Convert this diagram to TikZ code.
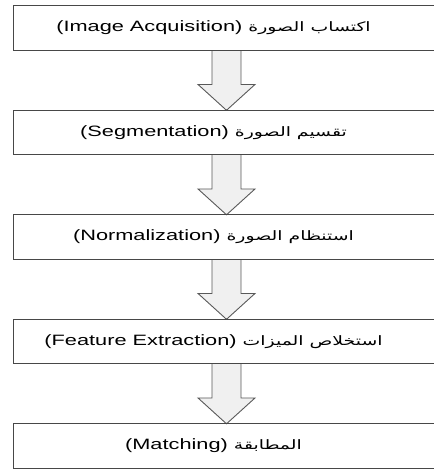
\documentclass[tikz,border=0pt]{standalone}
\usepackage{fontspec}
\usepackage{graphicx}
\setmainfont{Liberation Sans}
\newfontfamily\arabicfont[Script=Arabic]{DejaVu Sans}
\TeXXeTstate=1
\usetikzlibrary{calc}

\tikzset{
  stagebox/.style={minimum width=425pt, minimum height=44pt, inner sep=0pt},
  stagetext/.style={inner sep=0pt, font=\fontsize{15}{17}\selectfont},
  blockarrow/.style={draw=black!65, line width=0.9pt, fill=black!6,
    line join=miter},
  frame/.style={draw=black!72, line width=1.3pt}
}

\begin{document}
\begin{tikzpicture}[x=1pt,y=-1pt]
  \useasboundingbox (0,0) rectangle (433,470);

  % The five processing stages
  \foreach \i/\en/\ar in {1/Image Acquisition/اكتساب الصورة,
                          2/Segmentation/تقسيم الصورة,
                          3/Normalization/استنظام الصورة,
                          4/Feature Extraction/استخلاص الميزات,
                          5/Matching/المطابقة}
  {
    \node[stagebox] (b\i) at (226.5,{28+104.5*(\i-1)}) {};
    \node[stagetext] (t\i) at ([xshift=-13pt]b\i.center)
      {\scalebox{1.45}[1]{(\en) {\arabicfont\fontsize{13}{17}\selectfont\beginR\ar\endR}}};
  }

  % Hollow block arrows between the stages
  \foreach \i/\j in {1/2,2/3,3/4,4/5}
  {
    \coordinate (s\i) at ($(b\i.south)!.57!(b\j.north)$);
    \draw[blockarrow] ([xshift=-14.5pt]b\i.south) -- ([xshift=-14.5pt]s\i)
      -- ([xshift=-28.5pt]s\i) -- (b\j.north) -- ([xshift=28.5pt]s\i)
      -- ([xshift=14.5pt]s\i) -- ([xshift=14.5pt]b\i.south);
  }

  % Frames drawn last, over the arrow ends
  \foreach \i in {1,...,5}
    \draw[frame] (b\i.north west) rectangle (b\i.south east);
\end{tikzpicture}
\end{document}
